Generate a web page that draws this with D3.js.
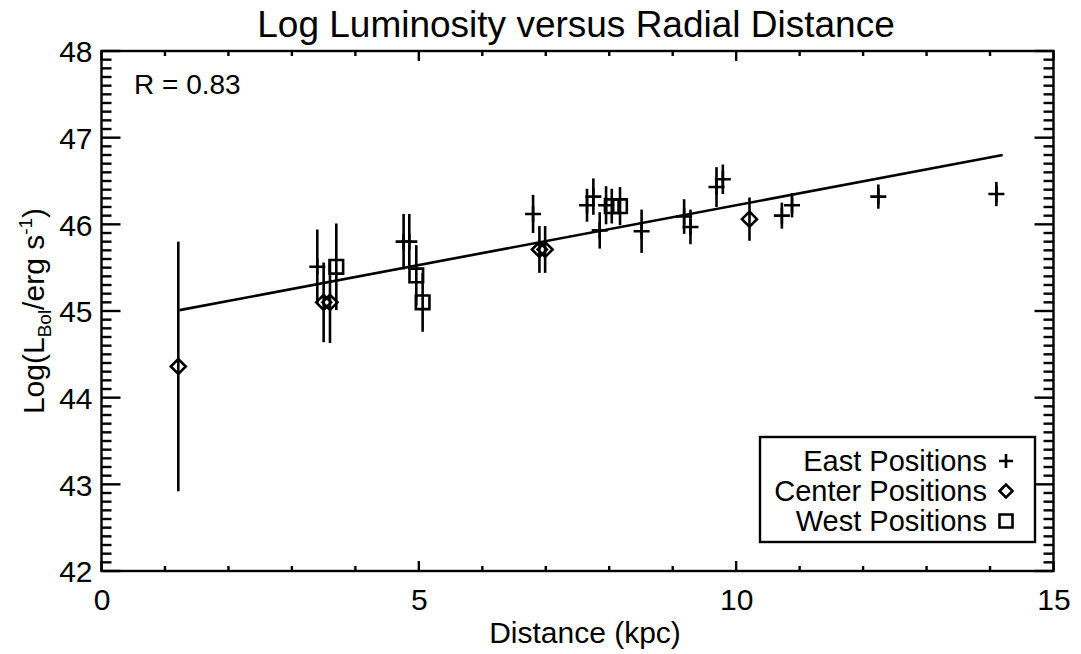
<!DOCTYPE html>
<html><head><meta charset="utf-8">
<script src="https://cdn.jsdelivr.net/npm/d3@7"></script>
<style>
html,body{margin:0;padding:0;background:#fff;}
svg text{font-family:"Liberation Sans",Arial,Helvetica,sans-serif;fill:#000;}
</style></head>
<body><svg id="chart" width="1081" height="654"></svg>
<script>
// ---- data ----
const eastX   = [3.40, 4.76, 4.85, 6.80, 7.65, 7.75, 7.85, 7.95, 8.51, 9.18, 9.28, 9.69, 9.79, 10.72, 10.88, 12.24, 14.10];
const eastY   = [45.51,45.80,45.80,46.12,46.22,46.32,45.93,46.22,45.92,46.09,45.97,46.43,46.52,46.10,46.22,46.32,46.35];
const eastErr = [0.43, 0.32, 0.32, 0.22, 0.19, 0.21, 0.21, 0.22, 0.25, 0.20, 0.20, 0.23, 0.17, 0.15, 0.14, 0.14, 0.14];
const centerX   = [1.21, 3.50, 3.60, 6.90, 6.99, 10.21];
const centerY   = [44.36,45.10,45.10,45.71,45.71,46.06];
const centerErr = [1.44, 0.46, 0.47, 0.27, 0.27, 0.25];
const westX   = [3.70, 4.96, 5.06, 8.04, 8.17];
const westY   = [45.51,45.41,45.10,46.21,46.21];
const westErr = [0.50, 0.35, 0.34, 0.20, 0.22];
const fitX = [1.23, 14.20];
const fitY = [45.01, 46.80];
const xTicks = [0, 5, 10, 15];
const yTicks = [42, 43, 44, 45, 46, 47, 48];
const legendLabels = ["East Positions", "Center Positions", "West Positions"];
const titleText = "Log Luminosity versus Radial Distance";
const rText = "R = 0.83";

// ---- layout ----
const L = 101.5, R = 1053.5, T = 51, B = 571;
const svg = d3.select("#chart");
const x = d3.scaleLinear().domain([0, 15]).range([L, R]);
const y = d3.scaleLinear().domain([42, 48]).range([B, T]);
const SW = 2.6;
const AW = 2.4;

const g = svg.append("g");

// axes box
g.append("rect").attr("x", L).attr("y", T).attr("width", R - L).attr("height", B - T)
  .attr("fill", "none").attr("stroke", "#000").attr("stroke-width", AW);

const xMinor = d3.range(0, 15.001, 1);
function xAxisTicks(sel, isBottom) {
  const sign = isBottom ? -1 : 1;
  const base = isBottom ? B : T;
  sel.selectAll("line").data(xMinor).join("line")
    .attr("x1", d => x(d)).attr("x2", d => x(d))
    .attr("y1", base).attr("y2", d => base + sign * (d % 5 === 0 ? 10 : 5))
    .attr("stroke", "#000").attr("stroke-width", AW);
}
g.append("g").call(s => xAxisTicks(s, true));
g.append("g").call(s => xAxisTicks(s, false));

const yMinor = d3.range(42, 48.0001, 0.1).map(v => Math.round(v * 10) / 10);
function yAxisTicks(sel, isLeft) {
  const sign = isLeft ? 1 : -1;
  const base = isLeft ? L : R;
  sel.selectAll("line").data(yMinor).join("line")
    .attr("y1", d => y(d)).attr("y2", d => y(d))
    .attr("x1", base).attr("x2", d => base + sign * (Math.abs(d - Math.round(d)) < 1e-6 ? 19 : 10))
    .attr("stroke", "#000").attr("stroke-width", AW);
}
g.append("g").call(s => yAxisTicks(s, true));
g.append("g").call(s => yAxisTicks(s, false));

// tick labels via d3 axes (no lines)
const xAxis = d3.axisBottom(x).tickValues(xTicks).tickSize(0).tickPadding(0).tickFormat(d3.format("d"));
const xa = g.append("g").attr("transform", `translate(0,${B})`).call(xAxis);
xa.select(".domain").remove();
xa.selectAll("text").attr("font-size", 30).attr("dy", null).attr("y", 39)
  .attr("font-family", "Liberation Sans, Arial, sans-serif").attr("fill", "#000");

const yAxis = d3.axisLeft(y).tickValues(yTicks).tickSize(0).tickPadding(0).tickFormat(d3.format("d"));
const ya = g.append("g").attr("transform", `translate(${L - 9},0)`).call(yAxis);
ya.select(".domain").remove();
ya.selectAll("text").attr("font-size", 30).attr("dy", "0.36em")
  .attr("font-family", "Liberation Sans, Arial, sans-serif").attr("fill", "#000");

// title
svg.append("text").attr("x", 576).attr("y", 37).attr("text-anchor", "middle")
  .attr("font-size", 37).text(titleText);

// x label
svg.append("text").attr("x", 585).attr("y", 643).attr("text-anchor", "middle")
  .attr("font-size", 30).text("Distance (kpc)");

// y label
const yl = svg.append("text").attr("transform", `translate(44,${(T + B) / 2}) rotate(-90)`)
  .attr("text-anchor", "middle").attr("font-size", 30);
yl.append("tspan").text("Log(L");
yl.append("tspan").attr("font-size", 19).attr("dy", 7).text("Bol");
yl.append("tspan").attr("dy", -7).text("/erg s");
yl.append("tspan").attr("font-size", 19).attr("dy", -12).text("-1");
yl.append("tspan").attr("dy", 12).text(")");

// R text
svg.append("text").attr("x", 134).attr("y", 94).attr("font-size", 28).text(rText);

// fit line
const line = d3.line().x(d => x(d[0])).y(d => y(d[1]));
g.append("path").datum(d3.zip(fitX, fitY)).attr("d", line)
  .attr("fill", "none").attr("stroke", "#000").attr("stroke-width", SW);

// symbols
function plusPath(cx, cy, r) { return `M${cx - r},${cy}H${cx + r}M${cx},${cy - r}V${cy + r}`; }
function diamondPath(cx, cy, r) { return `M${cx - r},${cy}L${cx},${cy - r}L${cx + r},${cy}L${cx},${cy + r}Z`; }
function squarePath(cx, cy, r) { return `M${cx - r},${cy - r}H${cx + r}V${cy + r}H${cx - r}Z`; }

function series(xs, ys, es, shapeFn, r) {
  const data = xs.map((d, i) => ({ x: d, y: ys[i], e: es[i] }));
  const s = g.append("g");
  s.selectAll("line.err").data(data).join("line").attr("class", "err")
    .attr("x1", d => x(d.x)).attr("x2", d => x(d.x))
    .attr("y1", d => y(d.y - d.e)).attr("y2", d => y(d.y + d.e))
    .attr("stroke", "#000").attr("stroke-width", SW);
  s.selectAll("path.sym").data(data).join("path").attr("class", "sym")
    .attr("d", d => shapeFn(x(d.x), y(d.y), r))
    .attr("fill", "none").attr("stroke", "#000").attr("stroke-width", SW);
}
series(eastX, eastY, eastErr, plusPath, 8);
series(centerX, centerY, centerErr, diamondPath, 7.5);
series(westX, westY, westErr, squarePath, 6.8);

// legend
const lg = svg.append("g");
lg.append("rect").attr("x", 760).attr("y", 437).attr("width", 275).attr("height", 105)
  .attr("fill", "#fff").attr("stroke", "#000").attr("stroke-width", AW);
const shapes = [plusPath, diamondPath, squarePath];
const radii = [7, 6.5, 6.5];
legendLabels.forEach((t, i) => {
  const cy = 461 + i * 30;
  lg.append("text").attr("x", 987).attr("y", cy + 10).attr("text-anchor", "end")
    .attr("font-size", 29).text(t);
  lg.append("path").attr("d", shapes[i](1006, cy, radii[i]))
    .attr("fill", "none").attr("stroke", "#000").attr("stroke-width", SW);
});
</script></body></html>
